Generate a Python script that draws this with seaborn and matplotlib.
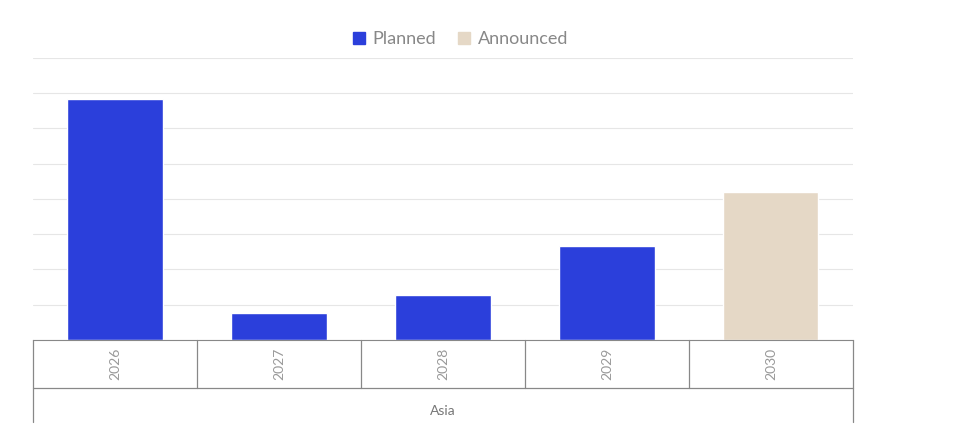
import matplotlib
matplotlib.use("Agg")
import matplotlib.pyplot as plt
import seaborn as sns
import pandas as pd

years = ["2026", "2027", "2028", "2029", "2030"]
values = [6.83, 0.77, 1.28, 2.67, 4.2]
status = ["Planned", "Planned", "Planned", "Planned", "Announced"]
region = "Asia"

sns.set_style("white")
plt.rcParams['font.family'] = ['Lato', 'DejaVu Sans']

df = pd.DataFrame({"year": years, "value": values, "status": status})
fig = plt.figure(figsize=(9.59, 4.45), dpi=100)
ax = fig.add_axes([0.0344, 0.236, 0.855, 0.634])
palette = {"Planned": "#2B3FDB", "Announced": "#E5D8C6"}
sns.barplot(data=df, x="year", y="value", hue="status", palette=palette,
            dodge=False, width=0.58, ax=ax, legend=False, saturation=1)
ax.set_ylim(0, 8)
ax.set_xlim(-0.5, 4.5)
ax.set_yticks(range(0, 9))
ax.yaxis.grid(True, color="#e6e6e6", lw=0.8)
ax.set_axisbelow(True)
ax.set_yticklabels([])
ax.tick_params(left=False, bottom=False)
ax.set_xticklabels([])
ax.set_xlabel(""); ax.set_ylabel("")
for s in ["top", "right", "left"]:
    ax.spines[s].set_visible(False)
ax.spines["bottom"].set_color("#888888")

tr = ax.get_xaxis_transform()
lc = "#888888"
# separators
for i in range(6):
    x = i - 0.5
    bottom = -0.29 if i in (0, 5) else -0.17
    ax.plot([x, x], [0, bottom], transform=tr, color=lc, lw=0.9, clip_on=False)
ax.plot([-0.5, 4.5], [-0.17, -0.17], transform=tr, color=lc, lw=0.9, clip_on=False)
for i, y in enumerate(years):
    ax.text(i, -0.085, y, transform=tr, rotation=90, ha="center", va="center",
            color="#999999", fontsize=10)
ax.text(2, -0.25, region, transform=tr, ha="center", va="center",
        color="#777777", fontsize=10)

from matplotlib.patches import Patch
handles = [Patch(color=palette[k], label=k) for k in ["Planned", "Announced"]]
fig.legend(handles=handles, loc="center", bbox_to_anchor=(0.48, 0.912), ncol=2,
           frameon=False, fontsize=13, handlelength=0.7, handleheight=0.7,
           handletextpad=0.4, columnspacing=1.2, labelcolor="#888888")
fig.savefig("out.png", dpi=100)
